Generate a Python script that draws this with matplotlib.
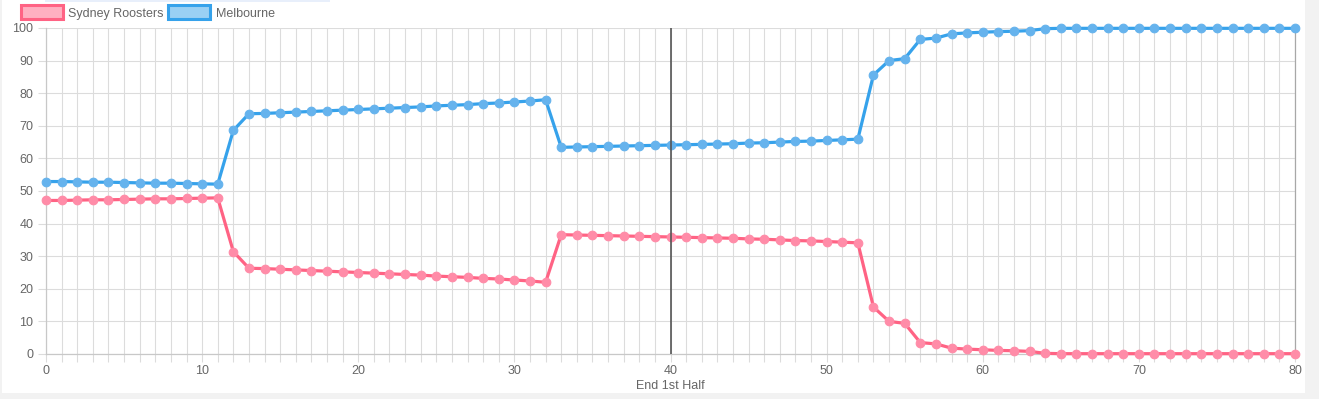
import matplotlib
matplotlib.use("Agg")
import matplotlib.pyplot as plt
from matplotlib.patches import Rectangle

minutes = list(range(0, 81))
roosters = [47.1, 47.1, 47.2, 47.3, 47.3, 47.4, 47.5, 47.6, 47.6, 47.7, 47.8, 47.9,
            31.4, 26.3, 26.2, 26.0, 25.8, 25.6, 25.4, 25.2, 25.0, 24.8, 24.6, 24.4,
            24.2, 23.9, 23.7, 23.5, 23.2, 23.0, 22.7, 22.4, 22.0,
            36.6, 36.5, 36.4, 36.3, 36.2, 36.1, 36.0, 35.9, 35.8, 35.7, 35.6, 35.5,
            35.3, 35.2, 35.0, 34.8, 34.7, 34.5, 34.3, 34.1,
            14.4, 10.0, 9.4, 3.5, 3.1, 1.8, 1.5, 1.3, 1.1, 1.0, 0.8, 0.2,
            0.1, 0.1, 0.1, 0.1, 0.1, 0.1, 0.1, 0.1, 0.1, 0.1, 0.1, 0.1, 0.1, 0.1, 0.1, 0.1]
melbourne = [52.9, 52.9, 52.8, 52.7, 52.7, 52.6, 52.5, 52.4, 52.4, 52.3, 52.2, 52.1,
             68.6, 73.7, 73.8, 74.0, 74.2, 74.4, 74.6, 74.8, 75.0, 75.2, 75.4, 75.6,
             75.8, 76.1, 76.3, 76.5, 76.8, 77.0, 77.3, 77.6, 78.0,
             63.4, 63.5, 63.6, 63.7, 63.8, 63.9, 64.0, 64.1, 64.2, 64.3, 64.4, 64.5,
             64.7, 64.8, 65.0, 65.2, 65.3, 65.5, 65.7, 65.9,
             85.6, 90.0, 90.6, 96.5, 96.9, 98.2, 98.5, 98.7, 98.9, 99.0, 99.2, 99.8,
             99.9, 99.9, 99.9, 99.9, 99.9, 99.9, 99.9, 99.9, 99.9, 99.9, 99.9, 99.9, 99.9, 99.9, 99.9, 99.9]
series_names = ["Sydney Roosters", "Melbourne"]
x_tick_values = [0, 10, 20, 30, 40, 50, 60, 70, 80]
y_tick_values = [0, 10, 20, 30, 40, 50, 60, 70, 80, 90, 100]
halftime_minute = 40
x_label = "End 1st Half"

W, H = 1319, 399
fig = plt.figure(figsize=(W / 100, H / 100), dpi=100)
fig.patch.set_facecolor("#f2f2f2")
plt.rcParams['font.family'] = ['Liberation Sans', 'DejaVu Sans']

# white panel
fig.add_artist(Rectangle((2 / W, 1 - 393 / H), (1305 - 2) / W, 393 / H,
                         transform=fig.transFigure, facecolor="white",
                         edgecolor="none", zorder=0))
# faint top strip
fig.add_artist(Rectangle((45 / W, 1 - 2 / H), (330 - 45) / W, 2 / H,
                         transform=fig.transFigure, facecolor="#e8effb",
                         edgecolor="none", zorder=1))

left, right, top, bottom = 46, 1295, 28, 354
ax = fig.add_axes([left / W, 1 - bottom / H, (right - left) / W, (bottom - top) / H])
ax.set_facecolor("none")

pink = "#ff6384"
blue = "#36a2eb"
pink_fill = (1.0, 99 / 255, 132 / 255, 0.5)
blue_fill = (54 / 255, 162 / 255, 235 / 255, 0.5)
pink_mk = (1.0, 0.55, 0.66)
blue_mk = (0.40, 0.70, 0.93)

for vals, col, mk in [(roosters, pink, pink_mk), (melbourne, blue, blue_mk)]:
    ax.plot(minutes, vals, color=col, lw=2.3, zorder=3, clip_on=False,
            solid_joinstyle="round")
    ax.plot(minutes, vals, lw=0, marker="o", markersize=6.2,
            markerfacecolor=mk, markeredgecolor=mk, markeredgewidth=0.8,
            zorder=3.5, clip_on=False)

ax.axvline(halftime_minute, color="#555555", lw=1.2, zorder=4)

ax.set_xlim(0, 80)
ax.set_ylim(0, 100)
ax.set_xticks(minutes)
ax.set_xticklabels([str(m) if m in x_tick_values else "" for m in minutes])
ax.set_yticks(y_tick_values)
ax.set_yticklabels([str(v) for v in y_tick_values])
ax.grid(True, color="#dcdcdc", lw=0.8, zorder=0)
ax.set_axisbelow(True)
ax.tick_params(axis="both", length=6, width=0.8, color="#dcdcdc",
               labelcolor="#666666", labelsize=9)
ax.tick_params(axis="x", pad=2)
ax.tick_params(axis="y", pad=3)
ax.spines["top"].set_visible(False)
ax.spines["left"].set_color("#c8c8c8")
ax.spines["bottom"].set_color("#c8c8c8")
ax.spines["right"].set_color("#a8a8a8")
for s in ["left", "bottom", "right"]:
    ax.spines[s].set_linewidth(0.9)
ax.set_xlabel(x_label, color="#666666", fontsize=9, labelpad=2)

# legend
legend_items = [(series_names[0], pink, pink_fill, 21, 68), (series_names[1], blue, blue_fill, 168, 216)]
for name, col, fill, bx, tx in legend_items:
    fig.add_artist(Rectangle((bx / W, 1 - 19 / H), 42 / W, 14 / H,
                             transform=fig.transFigure, facecolor=fill,
                             edgecolor=col, lw=2.2, zorder=5))
    fig.text(tx / W, 1 - 12.5 / H, name, color="#666666", fontsize=9,
             va="center_baseline", ha="left")

fig.savefig("out.png", dpi=100, facecolor=fig.get_facecolor())
